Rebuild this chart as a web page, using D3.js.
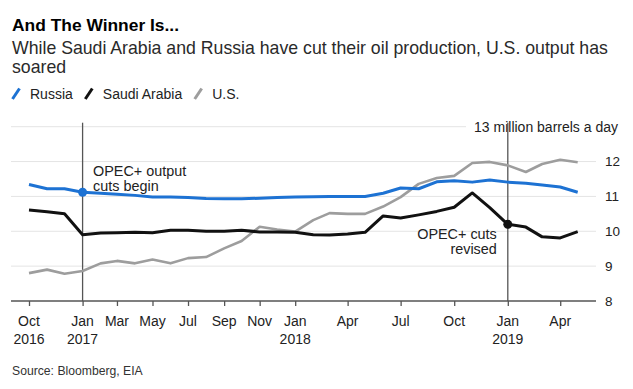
<!DOCTYPE html>
<html><head><meta charset="utf-8">
<script src="https://cdn.jsdelivr.net/npm/d3@7"></script>
<style>
body{margin:0;background:#fff}
svg{display:block;font-family:"Liberation Sans",Arial,Helvetica,sans-serif}
</style>
</head><body>
<svg id="c" width="633" height="389"></svg>
<script>
// ---- data ----
const months = ["2016-10","2016-11","2016-12","2017-01","2017-02","2017-03","2017-04","2017-05","2017-06","2017-07","2017-08","2017-09","2017-10","2017-11","2017-12","2018-01","2018-02","2018-03","2018-04","2018-05","2018-06","2018-07","2018-08","2018-09","2018-10","2018-11","2018-12","2019-01","2019-02","2019-03","2019-04","2019-05"];
const russia = [11.34,11.22,11.22,11.12,11.09,11.06,11.03,10.98,10.98,10.97,10.94,10.93,10.93,10.95,10.97,10.98,10.99,11.0,11.0,11.0,11.09,11.24,11.22,11.42,11.45,11.41,11.47,11.41,11.38,11.33,11.27,11.12];
const saudi = [10.61,10.56,10.5,9.9,9.95,9.96,9.97,9.96,10.03,10.03,10.0,10.0,10.03,9.98,9.98,9.97,9.9,9.89,9.92,9.97,10.44,10.38,10.47,10.57,10.69,11.1,10.68,10.2,10.12,9.84,9.81,9.99];
const us = [8.8,8.9,8.78,8.86,9.08,9.15,9.08,9.19,9.08,9.23,9.26,9.51,9.72,10.13,10.05,9.99,10.32,10.52,10.5,10.5,10.71,10.98,11.36,11.53,11.59,11.96,11.99,11.89,11.7,11.93,12.05,11.98];
const seriesNames = ["Russia","Saudi Arabia","U.S."];
const seriesColors = ["#1d72d3","#111111","#9d9d9d"];
const tickMonths = ["2016-10","2017-01","2017-03","2017-05","2017-07","2017-09","2017-11","2018-01","2018-04","2018-07","2018-10","2019-01","2019-04"];
const tickLine1 = ["Oct","Jan","Mar","May","Jul","Sep","Nov","Jan","Apr","Jul","Oct","Jan","Apr"];
const tickLine2 = ["2016","2017","","","","","","2018","","","","2019",""];
const yTicks = [8,9,10,11,12,13];
const yTopLabel = "13 million barrels a day";
const events = [
  {month:"2017-01", series:0, lines:["OPEC+ output","cuts begin"], side:"right"},
  {month:"2019-01", series:1, lines:["OPEC+ cuts","revised"], side:"left"}
];

// ---- drawing ----
const parse = d3.timeParse("%Y-%m");
const svg = d3.select("#c");
const allSeries = [russia, saudi, us];

const x = d3.scaleTime().domain([parse(months[0]), parse(months[months.length-1])]).range([29, 577.7]);
const y = d3.scaleLinear().domain([8,13]).range([301, 126.7]);
const gridLeft = 11, gridRight = 596;

// title
svg.append("text").attr("x",12).attr("y",31).attr("font-size",17.4).attr("font-weight","bold").attr("fill","#000").text("And The Winner Is...");
const sub = svg.append("text").attr("x",12).attr("y",54.3).attr("font-size",17.7).attr("fill","#2a2a2a");
sub.append("tspan").attr("x",12).text("While Saudi Arabia and Russia have cut their oil production, U.S. output has");
sub.append("tspan").attr("x",12).attr("dy",19).text("soared");

// legend
let lx = 12;
seriesNames.forEach((n,i)=>{
  svg.append("line").attr("x1",lx+0.5).attr("y1",99).attr("x2",lx+7.5).attr("y2",88.5)
    .attr("stroke",seriesColors[i]).attr("stroke-width",3);
  const t = svg.append("text").attr("x",lx+18).attr("y",99).attr("font-size",14).attr("fill","#222").text(n);
  lx = lx + 18 + t.node().getComputedTextLength() + 12;
});

// gridlines
const topLabel = svg.append("text").attr("x",618).attr("y",y(13)).attr("dy","0.36em").attr("text-anchor","end")
  .attr("font-size",14).attr("fill","#222").text(yTopLabel);
const topLabelStart = 618 - topLabel.node().getComputedTextLength();
yTicks.filter(v=>v>8).forEach(v=>{
  svg.insert("line","text").attr("x1",gridLeft).attr("x2", v===13 ? topLabelStart-8 : gridRight)
    .attr("y1",y(v)).attr("y2",y(v)).attr("stroke","#e4e4e4").attr("stroke-width",1);
});
yTicks.filter(v=>v<13).forEach(v=>{
  svg.append("text").attr("x",605).attr("y",y(v)).attr("dy","0.36em").attr("font-size",13.5).attr("fill","#222").text(v);
});

// x axis
const xAxis = d3.axisBottom(x).tickValues(tickMonths.map(parse)).tickSize(5).tickFormat(()=>"");
const gx = svg.append("g").attr("transform",`translate(0,${y(8)})`).call(xAxis);
gx.select(".domain").remove();
gx.selectAll(".tick line").attr("stroke","#555").attr("stroke-width",1.3);
svg.append("line").attr("x1",gridLeft).attr("x2",gridRight).attr("y1",y(8)).attr("y2",y(8)).attr("stroke","#555").attr("stroke-width",1.5);
tickMonths.forEach((m,i)=>{
  const t = svg.append("text").attr("x",x(parse(m))).attr("y",326).attr("text-anchor","middle").attr("font-size",14).attr("fill","#222");
  t.append("tspan").attr("x",x(parse(m))).text(tickLine1[i]);
  if (tickLine2[i]) t.append("tspan").attr("x",x(parse(m))).attr("dy",18).text(tickLine2[i]);
});

// event vertical lines
events.forEach(e=>{
  svg.append("line").attr("x1",x(parse(e.month))).attr("x2",x(parse(e.month))).attr("y1",y(13)-4).attr("y2",y(8))
    .attr("stroke","#555").attr("stroke-width",1.3);
});

// series lines (gray first, then black, then blue on top)
const line = d3.line().x((d,i)=>x(parse(months[i]))).y(d=>y(d));
[2,1,0].forEach(s=>{
  svg.append("path").datum(allSeries[s]).attr("d",line).attr("fill","none")
    .attr("stroke",seriesColors[s]).attr("stroke-width", s===2 ? 2.6 : 3)
    .attr("stroke-linejoin","round").attr("stroke-linecap","butt");
});

// event markers & labels
events.forEach(e=>{
  const idx = months.indexOf(e.month);
  const cx = x(parse(e.month)), cy = y(allSeries[e.series][idx]);
  svg.append("circle").attr("cx",cx).attr("cy",cy).attr("r",4.5).attr("fill",seriesColors[e.series]);
});
const e0 = events[0], e1 = events[1];
const a0 = svg.append("text").attr("font-size",14.4).attr("fill","#222");
a0.append("tspan").attr("x",x(parse(e0.month))+10.5).attr("y",175.7).text(e0.lines[0]);
a0.append("tspan").attr("x",x(parse(e0.month))+10.5).attr("y",190.7).text(e0.lines[1]);
const a1 = svg.append("text").attr("font-size",14.4).attr("fill","#222").attr("text-anchor","end");
a1.append("tspan").attr("x",x(parse(e1.month))-11).attr("y",239.3).text(e1.lines[0]);
a1.append("tspan").attr("x",x(parse(e1.month))-11).attr("y",254.3).text(e1.lines[1]);

// source
svg.append("text").attr("x",12).attr("y",375).attr("font-size",12.2).attr("fill","#333").text("Source: Bloomberg, EIA");
</script>
</body></html>
